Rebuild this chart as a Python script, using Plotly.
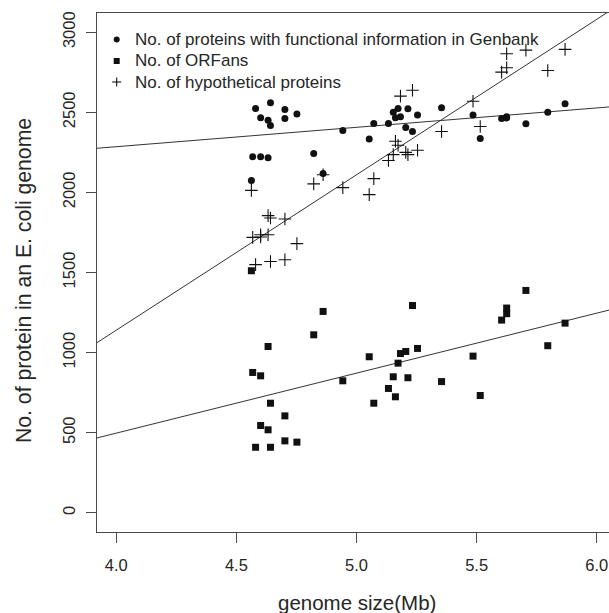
import numpy as np
import plotly.graph_objects as go

# genome sizes (Mb) of the E. coli genomes
genome_size = [4.5625, 4.568, 4.580, 4.601, 4.601, 4.632, 4.632, 4.642, 4.642, 4.702,
               4.702, 4.752, 4.822, 4.861, 4.943, 5.053, 5.072, 5.133, 5.153, 5.162,
               5.173, 5.183, 5.205, 5.214, 5.233, 5.254, 5.354, 5.485, 5.515, 5.604,
               5.625, 5.625, 5.705, 5.796, 5.868]
# proteins with functional information in Genbank
functional = [2074, 2222, 2524, 2466, 2222, 2451, 2216, 2559, 2418, 2517,
              2461, 2490, 2243, 2118, 2386, 2334, 2430, 2430, 2501, 2466,
              2524, 2472, 2405, 2522, 2380, 2484, 2528, 2484, 2336, 2461,
              2472, 2465, 2428, 2501, 2553]
# ORFans
orfans = [1511, 876, 409, 855, 545, 1038, 518, 684, 409, 605,
          449, 441, 1111, 1257, 824, 974, 684, 776, 849, 724,
          934, 994, 1007, 843, 1294, 1026, 819, 978, 732, 1203,
          1243, 1278, 1388, 1043, 1184]
# hypothetical proteins
hypothetical = [2013, 1719, 1549, 1736, 1722, 1736, 1855, 1840, 1569, 1834,
                1580, 1680, 2053, 2110, 2030, 1986, 2086, 2199, 2236, 2319,
                2294, 2601, 2250, 2236, 2638, 2263, 2380, 2569, 2411, 2751,
                2778, 2866, 2888, 2761, 2893]

legend_labels = ["No. of proteins with functional information in Genbank",
                 "No. of ORFans",
                 "No. of hypothetical proteins"]
x_ticks = [4.0, 4.5, 5.0, 5.5, 6.0]
y_ticks = [0, 500, 1000, 1500, 2000, 2500, 3000]

FONT = "Liberation Sans, Arial, Helvetica, sans-serif"
INK = "#111111"
TXT = "#262626"
AX = "#4a4a4a"

# R-style limits (xlim 4..6, ylim 0..3000 with 4% padding); the right part is cropped
x_range = [3.92, 6.08]
y_range = [-120, 3120]

fig = go.Figure()

series = [
    (functional, "circle", 7, legend_labels[0]),
    (orfans, "square", 7, legend_labels[1]),
    (hypothetical, "cross-thin", 9, legend_labels[2]),
]

# regression lines (least squares fit of each series)
xs_line = np.array(x_range)
for ys, _, _, name in series:
    slope, intercept = np.polyfit(genome_size, ys, 1)
    fig.add_trace(go.Scatter(x=xs_line, y=intercept + slope * xs_line, mode="lines",
                             line=dict(color="#333333", width=1), showlegend=False,
                             hoverinfo="skip"))

for ys, sym, size, name in series:
    marker = dict(symbol=sym, size=size, color=INK)
    if sym == "cross-thin":
        marker["line"] = dict(color=INK, width=1.1)
    fig.add_trace(go.Scatter(x=genome_size, y=ys, mode="markers", name=name,
                             marker=marker, showlegend=False, hoverinfo="skip"))

# legend drawn by hand (R style)
W, H = 616, 613
L, T, PW, PH = 97, 13, 519, 519
def px_to_paper(px, py):
    return (px - L) / PW, 1 - (py - T) / PH

leg_rows = [39.5, 61, 82]
sym_x = 116.7
shapes = []
annotations = []
for i, (row, lab) in enumerate(zip(leg_rows, legend_labels)):
    sx, sy = px_to_paper(sym_x, row)
    if i == 0:
        shapes.append(dict(type="circle", xref="paper", yref="paper", xsizemode="pixel",
                           ysizemode="pixel", xanchor=sx, yanchor=sy, x0=-3, x1=3, y0=-3, y1=3,
                           fillcolor=INK, line=dict(width=0)))
    elif i == 1:
        shapes.append(dict(type="rect", xref="paper", yref="paper", xsizemode="pixel",
                           ysizemode="pixel", xanchor=sx, yanchor=sy, x0=-3, x1=3, y0=-3, y1=3,
                           fillcolor=INK, line=dict(width=0)))
    else:
        shapes.append(dict(type="line", xref="paper", yref="paper", xsizemode="pixel",
                           ysizemode="pixel", xanchor=sx, yanchor=sy, x0=-4.5, x1=4.5, y0=0, y1=0,
                           line=dict(color=INK, width=1.1)))
        shapes.append(dict(type="line", xref="paper", yref="paper", xsizemode="pixel",
                           ysizemode="pixel", xanchor=sx, yanchor=sy, x0=0, x1=0, y0=-4.5, y1=4.5,
                           line=dict(color=INK, width=1.1)))
    tx, ty = px_to_paper(133.3, row)
    annotations.append(dict(text=lab, xref="paper", yref="paper", x=tx, y=ty,
                            xanchor="left", yanchor="middle", showarrow=False,
                            font=dict(family=FONT, size=17, color=TXT)))

# axis titles
annotations.append(dict(text="genome size(Mb)", xref="paper", yref="paper", x=0.5, y=-0.135,
                        xanchor="center", yanchor="middle", showarrow=False,
                        font=dict(family=FONT, size=20.5, color=TXT)))
ytx, yty = px_to_paper(24, 281)
annotations.append(dict(text="No. of protein in an E. coli genome", xref="paper", yref="paper",
                        x=ytx, y=yty, xanchor="center", yanchor="middle", textangle=-90,
                        showarrow=False, font=dict(family=FONT, size=21.2, color=TXT)))

fig.update_layout(
    width=W, height=H,
    margin=dict(l=L, r=W - L - PW, t=T, b=H - T - PH),
    paper_bgcolor="white", plot_bgcolor="white",
    shapes=shapes, annotations=annotations,
    showlegend=False, hovermode=False,
    font=dict(family=FONT, color=TXT),
)
fig.update_xaxes(range=x_range, tickvals=x_ticks, ticktext=[f"{v:.1f}" for v in x_ticks],
                 showgrid=False, zeroline=False, showline=True, mirror=True,
                 linecolor=AX, linewidth=1.3, ticks="outside", ticklen=10, tickwidth=1.1,
                 tickcolor=AX, tickfont=dict(family=FONT, size=16.5, color=TXT),
                 ticklabelstandoff=8, showspikes=False)
fig.update_yaxes(range=y_range, tickvals=y_ticks, showgrid=False, zeroline=False,
                 showline=True, mirror=True, linecolor=AX, linewidth=1.3,
                 ticks="outside", ticklen=10, tickwidth=1.1, tickcolor=AX,
                 tickangle=-90, tickfont=dict(family=FONT, size=16.5, color=TXT),
                 ticklabelstandoff=4, showspikes=False)

fig.write_html("out.html", config={"displayModeBar": False, "staticPlot": True},
               post_script="document.body.style.margin='0';document.body.style.overflow='hidden';")
